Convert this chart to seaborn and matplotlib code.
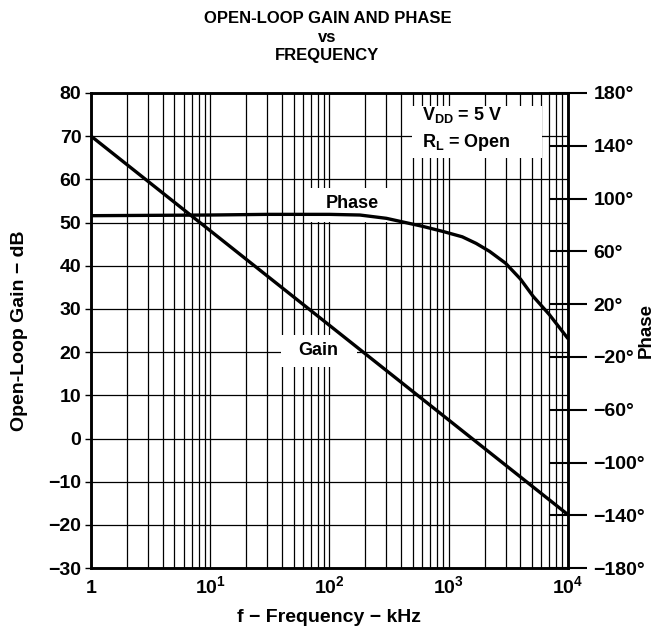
import numpy as np
import pandas as pd
import matplotlib
matplotlib.use("Agg")
import matplotlib.pyplot as plt
import matplotlib.ticker as mticker
from matplotlib.patches import Rectangle
import seaborn as sns

# ---- data ----
gain_freq_khz = [1, 10000]
gain_db = [70, -17.6]

phase_freq_khz = [1, 10, 30, 100, 180, 300, 400, 600, 900, 1300, 1700, 2200,
                  3000, 4000, 5100, 7000, 10000]
phase_deg = [87, 87.5, 88, 88, 87.5, 85, 82.5, 79, 75, 71, 66, 60,
             51, 39, 26, 12, -6]

x_ticks = [1, 10, 100, 1000, 10000]
x_tick_labels = ["1", "$10^{1}$", "$10^{2}$", "$10^{3}$", "$10^{4}$"]
gain_ticks = [-30, -20, -10, 0, 10, 20, 30, 40, 50, 60, 70, 80]
phase_ticks = [-180, -140, -100, -60, -20, 20, 60, 100, 140, 180]

sns.set_style("white")
plt.rcParams["font.family"] = ["Liberation Sans", "DejaVu Sans"]
plt.rcParams["font.weight"] = "bold"
plt.rcParams["mathtext.fontset"] = "custom"
plt.rcParams["mathtext.rm"] = "Liberation Sans:bold"
plt.rcParams["mathtext.it"] = "Liberation Sans:bold"
plt.rcParams["mathtext.bf"] = "Liberation Sans:bold"
plt.rcParams["axes.unicode_minus"] = True
for key in ["text.color", "axes.labelcolor", "xtick.color", "ytick.color",
            "axes.edgecolor"]:
    plt.rcParams[key] = "black"

FS = 14        # tick labels
FA = 13        # annotations
FL = 14        # axis labels
FT = 12        # title

gain_df = pd.DataFrame({"f": gain_freq_khz, "gain": gain_db})
phase_df = pd.DataFrame({"f": phase_freq_khz, "phase": phase_deg})

fig = plt.figure(figsize=(6.55, 6.32), dpi=100)
ax = fig.add_axes([0.139, 0.101, 0.728, 0.752])
ax.set_xscale("log")

sns.lineplot(data=gain_df, x="f", y="gain", ax=ax, color="black", lw=2.4,
             zorder=5)

ax2 = ax.twinx()
sns.lineplot(data=phase_df, x="f", y="phase", ax=ax2, color="black", lw=2.4)
ax2.set_xscale("log")
ax2.set_xlim(1, 10000)
ax.set_xlim(1, 10000)
ax.set_ylim(-30, 80)
ax2.set_ylim(-180, 180)

ax.set_yticks(gain_ticks)
ax.set_yticklabels([str(v).replace("-", "\u2212") for v in gain_ticks],
                   fontsize=FS, fontweight="bold")
ax.xaxis.set_major_locator(mticker.FixedLocator(x_ticks))
ax.xaxis.set_major_formatter(mticker.FixedFormatter(x_tick_labels))
ax.xaxis.set_minor_locator(mticker.LogLocator(base=10, subs=np.arange(2, 10)))
ax.xaxis.set_minor_formatter(mticker.NullFormatter())
ax.tick_params(axis="x", which="both", length=0, pad=18, labelsize=FS,
               colors="black")
for t in ax.xaxis.get_major_ticks():
    t.label1.set_verticalalignment("baseline")
ax.grid(True, which="both", axis="x", color="black", lw=0.9)
ax.grid(True, which="major", axis="y", color="black", lw=0.9)
ax.set_axisbelow(True)
ax.tick_params(axis="y", which="major", length=4, width=1, direction="out",
               pad=3, colors="black")
for s in ax.spines.values():
    s.set_linewidth(1.8)
    s.set_color("black")

ax.set_xlabel("f \u2212 Frequency \u2212 kHz", fontsize=FL, fontweight="bold",
              color="black")
ax.xaxis.label.set_verticalalignment("baseline")
ax.xaxis.set_label_coords(0.5, -0.1137)
ax.set_ylabel("Open-Loop Gain \u2212 dB", fontsize=FL, fontweight="bold",
              color="black")
ax.yaxis.set_label_coords(-0.133, 0.5)

ax2.set_yticks(phase_ticks)
ax2.set_yticklabels([(str(v).replace("-", "\u2212") + "\u00b0")
                     for v in phase_ticks], fontsize=FS, fontweight="bold")
ax2.tick_params(axis="y", length=27, width=1.5, direction="inout", pad=5,
                colors="black")
ax2.set_ylabel("Phase", fontsize=13.5, fontweight="bold", color="black")
ax2.yaxis.set_label_coords(1.146, 0.5)
ax2.set_xlabel("")
ax2.grid(False)
for s in ax2.spines.values():
    s.set_linewidth(1.8)
    s.set_color("black")

# white label boxes that interrupt the grid
def white_box(x0, y0, x1, y1):
    ax.add_patch(Rectangle((x0, y0), x1 - x0, y1 - y0, transform=ax.transAxes,
                           facecolor="white", edgecolor="none", zorder=3))

white_box(0.459, 0.728, 0.627, 0.800)   # Phase label
white_box(0.398, 0.423, 0.558, 0.490)   # Gain label
white_box(0.673, 0.863, 0.945, 0.973)   # conditions box

ax.text(0.547, 0.768, "Phase", transform=ax.transAxes, ha="center",
        va="center", fontsize=FA, fontweight="bold", zorder=4)
ax.text(0.476, 0.459, "Gain", transform=ax.transAxes, ha="center",
        va="center", fontsize=FA, fontweight="bold", zorder=4)
ax.text(0.694, 0.943, "V$_{DD}$ = 5 V", transform=ax.transAxes,
        ha="left", va="baseline", fontsize=FA, fontweight="bold", zorder=4)
ax.text(0.694, 0.886, "R$_{L}$ = Open", transform=ax.transAxes,
        ha="left", va="baseline", fontsize=FA, fontweight="bold", zorder=4)

fig.text(0.5, 1 - 23 / 632, "OPEN-LOOP GAIN AND PHASE", ha="center",
         va="baseline", fontsize=FT, fontweight="bold")
fig.text(0.5, 1 - 42 / 632, "vs", ha="center", va="baseline", fontsize=FT,
         fontweight="bold")
fig.text(0.5, 1 - 60 / 632, "FREQUENCY", ha="center", va="baseline",
         fontsize=FT, fontweight="bold")

fig.savefig("out.png", dpi=100)
